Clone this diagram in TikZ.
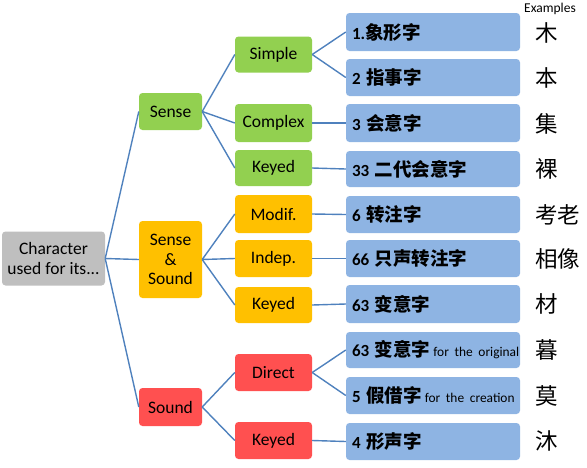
\documentclass[tikz,border=0pt]{standalone}
\usepackage{fontspec}
\setmainfont{Carlito}
\newfontfamily\zhfont{Noto Sans CJK SC}
\newcommand{\zhb}[1]{{\fontsize{18.5}{20}\selectfont\zhfont\bfseries #1}}
\newcommand{\smalltxt}[1]{{\fontsize{13.4}{15}\selectfont\mdseries #1}}
\definecolor{cgray}{RGB}{191,191,191}
\definecolor{cgreen}{RGB}{146,208,80}
\definecolor{corange}{RGB}{255,192,0}
\definecolor{cred}{RGB}{255,80,80}
\definecolor{cblue}{RGB}{142,180,227}
\definecolor{cline}{RGB}{79,129,189}
\tikzset{
  base/.style={inner sep=0pt, rounded corners=3.5pt, align=center, font=\fontsize{17.5}{19.5}\selectfont},
  rootbox/.style={base, fill=cgray, minimum width=103pt, minimum height=54pt},
  lvA/.style={base, minimum width=63pt},
  lvB/.style={base, minimum width=77pt},
  leaf/.style={inner xsep=6pt, inner ysep=0pt, rounded corners=3.5pt, fill=cblue, text width=162pt, align=left, font=\fontsize{17}{20}\selectfont\bfseries},
  ex/.style={anchor=west, inner sep=0pt, font=\fontsize{22.5}{26}\selectfont\zhfont},
  conn/.style={draw=cline, line width=1.4pt}
}
\begin{document}
\begin{tikzpicture}[x=1pt,y=-1pt]
\useasboundingbox (0,0) rectangle (587,467);
% root
\node[rootbox] (root) at (53.5,258.5) {Character\\used for its...};
% level 1
\node[lvA, fill=cgreen, minimum height=37pt] (sense) at (170.5,111.5) {Sense};
\node[lvA, fill=corange, minimum height=77pt] (ss) at (170.5,259.5) {Sense\\\&\\Sound};
\node[lvA, fill=cred, minimum height=38pt] (sound) at (170.5,407) {Sound};
% level 2
\node[lvB, fill=cgreen, minimum height=36pt] (simple) at (273.5,54.5) {Simple};
\node[lvB, fill=cgreen, minimum height=38pt] (complex) at (273.5,123) {Complex};
\node[lvB, fill=cgreen, minimum height=36pt] (keyedA) at (273.5,168) {Keyed};
\node[lvB, fill=corange, minimum height=38pt] (modif) at (273.5,214) {Modif.};
\node[lvB, fill=corange, minimum height=37pt] (indep) at (273.5,258.5) {Indep.};
\node[lvB, fill=corange, minimum height=36pt] (keyedB) at (273.5,305) {Keyed};
\node[lvB, fill=cred, minimum height=37pt] (direct) at (273.5,372.5) {Direct};
\node[lvB, fill=cred, minimum height=37pt] (keyedC) at (273.5,440.5) {Keyed};
% level 3
\node[leaf, minimum height=38pt] (b1) at (433,32) {\mbox{1.\zhb{象形字}}};
\node[leaf, minimum height=37pt] (b2) at (433,77.5) {\mbox{2 \zhb{指事字}}};
\node[leaf, minimum height=38pt] (b3) at (433,123) {\mbox{3 \zhb{会意字}}};
\node[leaf, minimum height=36pt] (b33) at (433,169) {\mbox{33 \zhb{二代会意字}}};
\node[leaf, minimum height=37pt] (b6) at (433,214.5) {\mbox{6 \zhb{转注字}}};
\node[leaf, minimum height=37pt] (b66) at (433,258.5) {\mbox{66 \zhb{只声转注字}}};
\node[leaf, minimum height=38pt] (b63) at (433,304) {\mbox{63 \zhb{变意字}}};
\node[leaf, minimum height=36pt] (b63o) at (433,350) {\mbox{63 \zhb{变意字}\kern3pt\smalltxt{for the original}}};
\node[leaf, minimum height=37pt] (b5) at (433,395.5) {\mbox{5 \zhb{假借字}\kern3pt\smalltxt{for the creation}}};
\node[leaf, minimum height=37pt] (b4) at (433,441.5) {\mbox{4 \zhb{形声字}}};
% examples
\node[inner sep=0pt, font=\fontsize{13.5}{15}\selectfont] (exlabel) at (550,9) {Examples};
\node[ex] (e1) at (535,33) {木};
\node[ex] (e2) at (535,78) {本};
\node[ex] (e3) at (535,124) {集};
\node[ex] (e4) at (535,169) {裸};
\node[ex] (e5) at (535,215) {考老};
\node[ex] (e6) at (535,259) {相像};
\node[ex] (e7) at (535,304) {材};
\node[ex] (e8) at (535,350) {暮};
\node[ex] (e9) at (535,396) {莫};
\node[ex] (e10) at (535,441) {沐};
% connectors
\draw[conn] (root.east) -- (sense.west);
\draw[conn] (root.east) -- (ss.west);
\draw[conn] (root.east) -- (sound.west);
\draw[conn] (sense.east) -- (simple.west);
\draw[conn] (sense.east) -- (complex.west);
\draw[conn] (sense.east) -- (keyedA.west);
\draw[conn] (ss.east) -- (modif.west);
\draw[conn] (ss.east) -- (indep.west);
\draw[conn] (ss.east) -- (keyedB.west);
\draw[conn] (sound.east) -- (direct.west);
\draw[conn] (sound.east) -- (keyedC.west);
\draw[conn] (simple.east) -- (b1.west);
\draw[conn] (simple.east) -- (b2.west);
\draw[conn] (complex.east) -- (b3.west);
\draw[conn] (keyedA.east) -- (b33.west);
\draw[conn] (modif.east) -- (b6.west);
\draw[conn] (indep.east) -- (b66.west);
\draw[conn] (keyedB.east) -- (b63.west);
\draw[conn] (direct.east) -- (b63o.west);
\draw[conn] (direct.east) -- (b5.west);
\draw[conn] (keyedC.east) -- (b4.west);
\end{tikzpicture}
\end{document}
